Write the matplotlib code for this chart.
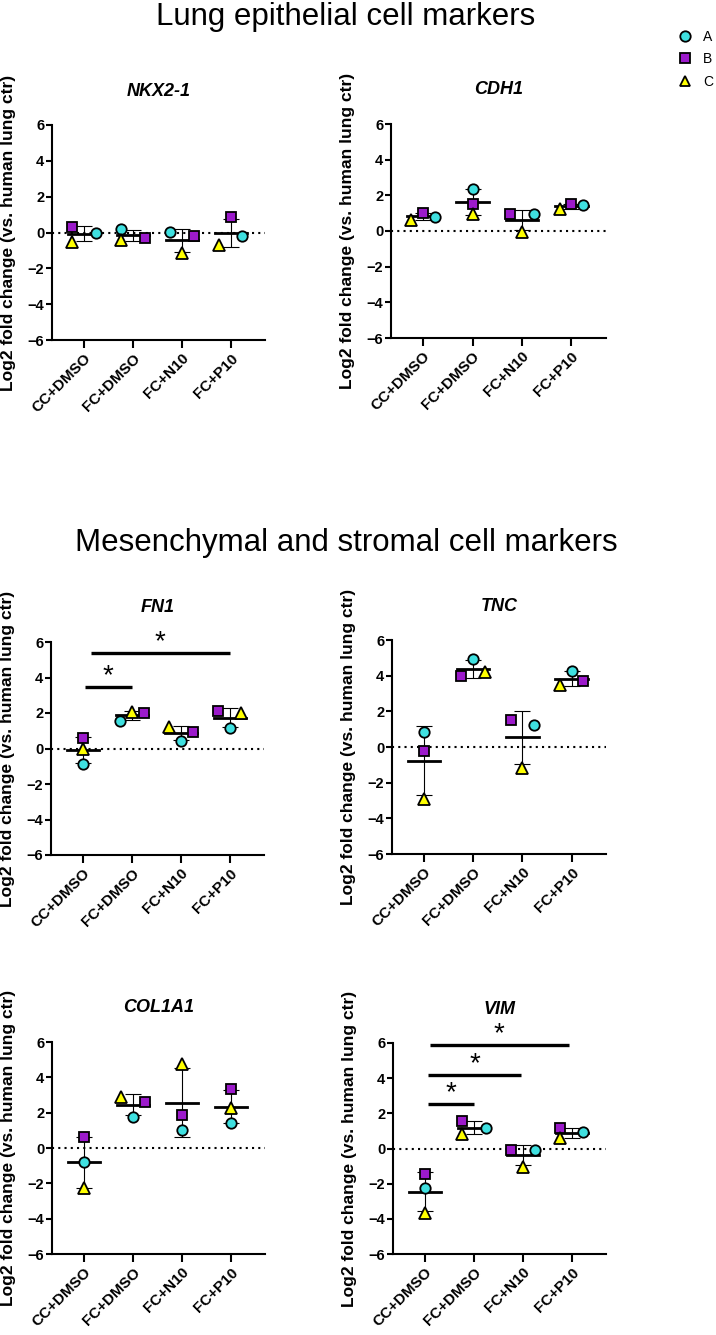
import matplotlib
matplotlib.use("Agg")
import matplotlib.pyplot as plt
from matplotlib.lines import Line2D
import numpy as np

plt.rcParams["font.family"] = ["Liberation Sans", "DejaVu Sans"]

GROUPS = ["CC+DMSO", "FC+DMSO", "FC+N10", "FC+P10"]
SERIES = ["A", "B", "C"]

# values (log2 fold change), one list per series
NKX_A = [0.00, 0.19, 0.04, -0.20]
NKX_B = [0.32, -0.28, -0.20, 0.84]
NKX_C = [-0.52, -0.40, -1.17, -0.70]

CDH1_A = [0.81, 2.38, 0.94, 1.45]
CDH1_B = [1.03, 1.54, 0.94, 1.50]
CDH1_C = [0.60, 0.94, -0.04, 1.22]

FN1_A = [-0.85, 1.57, 0.43, 1.15]
FN1_B = [0.58, 1.98, 0.94, 2.09]
FN1_C = [0.00, 2.04, 1.19, 1.98]

TNC_A = [0.84, 4.92, 1.25, 4.28]
TNC_B = [-0.20, 4.00, 1.53, 3.72]
TNC_C = [-2.94, 4.19, -1.17, 3.48]

COL1A1_A = [-0.81, 1.78, 1.03, 1.44]
COL1A1_B = [0.62, 2.63, 1.88, 3.34]
COL1A1_C = [-2.25, 2.91, 4.75, 2.25]

VIM_A = [-2.27, 1.17, -0.06, 0.95]
VIM_B = [-1.46, 1.55, -0.06, 1.14]
VIM_C = [-3.64, 0.85, -1.04, 0.60]

# significance brackets: start group, end group, height
FN1_SIG_X0 = [0.04, 0.16]
FN1_SIG_X1 = [1.00, 3.00]
FN1_SIG_Y = [3.49, 5.40]

VIM_SIG_X0 = [0.06, 0.06, 0.10]
VIM_SIG_X1 = [1.00, 1.97, 2.94]
VIM_SIG_Y = [2.52, 4.17, 5.91]

# horizontal slot of each point inside its group (-1 left, 0 middle, 1 right)
SLOTS = {
    "NKX2-1": ([1, -1, -1, 1], [-1, 1, 1, 0], [-1, -1, 0, -1]),
    "CDH1":   ([1, 0, 1, 1], [0, 0, -1, 0], [-1, 0, 0, -1]),
    "FN1":    ([0, -1, 0, 0], [0, 1, 1, -1], [0, 0, -1, 1]),
    "TNC":    ([0, 0, 1, 0], [0, -1, -1, 1], [0, 1, 0, -1]),
    "COL1A1": ([0, 0, 0, 0], [0, 1, 0, 0], [0, -1, 0, 0]),
    "VIM":    ([0, 1, 1, 1], [0, -1, -1, -1], [0, -1, 0, -1]),
}

MARKERS = ["o", "s", "^"]
COLORS = ["#3FE0E0", "#9C1ACB", "#FFFF00"]
SLOT_W = 0.24

W, H = 716, 1335


def panel(rect, name, a, b, c, sig=None):
    ax = fig.add_axes(rect)
    data = np.array([a, b, c])
    x = np.arange(len(GROUPS))
    mean = data.mean(axis=0)
    sd = data.std(axis=0, ddof=1)

    ax.axhline(0, color="black", ls=(0, (1, 2)), lw=1.5, zorder=1)
    for i in x:
        ax.plot([i - 0.33, i + 0.33], [mean[i], mean[i]], color="black", lw=2.0, zorder=2)
    ax.errorbar(x, mean, yerr=sd, fmt="none", ecolor="black", elinewidth=0.8,
                capsize=6, capthick=0.8, zorder=2)

    for k in range(3):
        xs = x + np.array(SLOTS[name][k]) * SLOT_W
        ax.plot(xs, data[k], ls="none", marker=MARKERS[k], ms=7.5 if k != 2 else 8,
                mfc=COLORS[k], mec="black", mew=1.3, zorder=3 + k * 0.1)

    if sig is not None:
        for x0, x1, y in zip(*sig):
            ax.plot([x0, x1], [y, y], color="black", lw=2.4, clip_on=False,
                    solid_capstyle="butt")
            ax.text((x0 + x1) / 2, y + 0.2, "*", ha="center", va="baseline",
                    fontsize=20)

    ax.set_xlim(-0.65, 3.7)
    ax.set_ylim(-6, 6)
    ax.set_yticks(np.arange(-6, 7, 2))
    ax.set_xticks(x)
    ax.set_xticklabels(GROUPS, rotation=45, ha="right", rotation_mode="anchor",
                       fontsize=11, fontweight="bold")
    for lbl in ax.get_yticklabels():
        lbl.set_fontweight("bold")
        lbl.set_fontsize(10.5)
    ax.spines["top"].set_visible(False)
    ax.spines["right"].set_visible(False)
    ax.spines["left"].set_linewidth(1.5)
    ax.spines["bottom"].set_linewidth(1.5)
    ax.tick_params(axis="y", length=4, width=1.5, pad=1.5)
    ax.tick_params(axis="x", length=6, width=1.5, pad=2)
    ax.set_ylabel("Log2 fold change (vs. human lung ctr)", fontsize=12.5,
                  fontweight="bold")
    ax.yaxis.set_label_coords(-0.167, 0.5)
    ax.text(0.5, 1 + 34 / (rect[3] * H), name, transform=ax.transAxes,
            ha="center", va="center", fontsize=13, fontweight="bold",
            fontstyle="italic")
    return ax


fig = plt.figure(figsize=(W / 100, H / 100), dpi=100)


def rect(x0, x1, y_top, y_bot):
    return [x0 / W, 1 - y_bot / H, (x1 - x0) / W, (y_bot - y_top) / H]


panel(rect(52, 265, 125, 340), "NKX2-1", NKX_A, NKX_B, NKX_C)
panel(rect(391, 606, 124, 338), "CDH1", CDH1_A, CDH1_B, CDH1_C)
panel(rect(51, 264, 642, 855), "FN1", FN1_A, FN1_B, FN1_C,
      (FN1_SIG_X0, FN1_SIG_X1, FN1_SIG_Y))
panel(rect(392, 606, 640, 854), "TNC", TNC_A, TNC_B, TNC_C)
panel(rect(52, 265, 1042, 1254), "COL1A1", COL1A1_A, COL1A1_B, COL1A1_C)
panel(rect(393, 606, 1043, 1254), "VIM", VIM_A, VIM_B, VIM_C,
      (VIM_SIG_X0, VIM_SIG_X1, VIM_SIG_Y))

fig.text(346 / W, 1 - 17 / H, "Lung epithelial cell markers", ha="center",
         va="center", fontsize=22.5)
fig.text(346 / W, 1 - 543 / H, "Mesenchymal and stromal cell markers",
         ha="center", va="center", fontsize=22.5)

handles = [Line2D([], [], ls="none", marker=MARKERS[k], ms=7.5, mfc=COLORS[k],
                  mec="black", mew=1.3) for k in range(3)]
fig.legend(handles, SERIES, loc="upper left", bbox_to_anchor=(678 / W, 1 - 30 / H),
           frameon=False, fontsize=10, handlelength=1.0, handletextpad=0.8,
           labelspacing=0.6, borderpad=0, borderaxespad=0)

fig.savefig("out.png", dpi=100)
